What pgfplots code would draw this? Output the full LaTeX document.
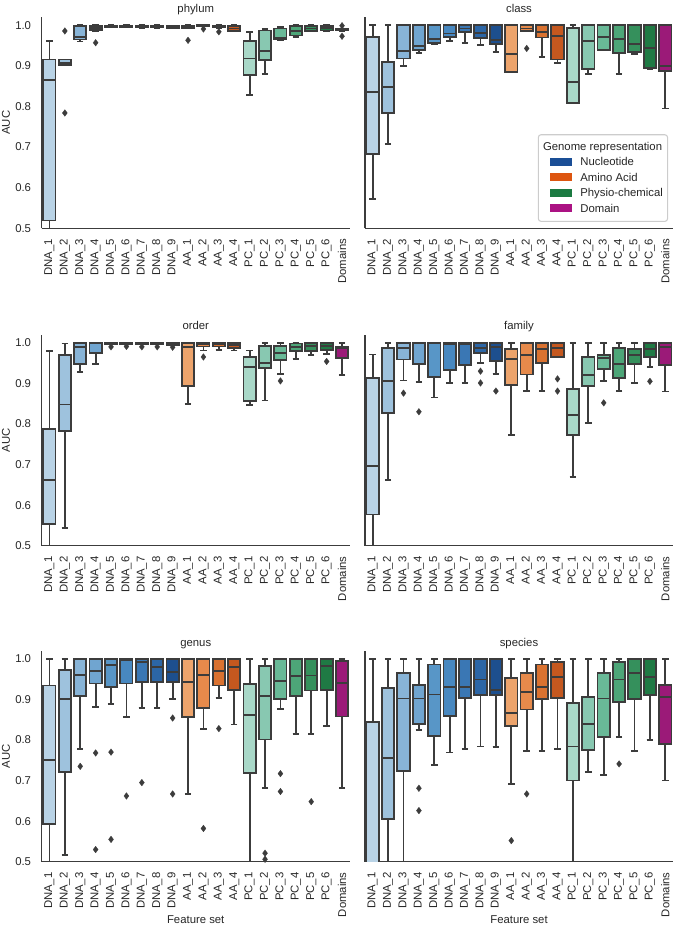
\documentclass[border=0pt]{standalone}
\usepackage{pgfplots}
\pgfplotsset{compat=1.18}
\usepgfplotslibrary{statistics}
\usepackage{fontspec}
\setmainfont{Liberation Sans}
\definecolor{edge}{HTML}{3C3C3C}
\definecolor{d1}{HTML}{B9D3E6}
\definecolor{d2}{HTML}{9EC2DD}
\definecolor{d3}{HTML}{88B4D7}
\definecolor{d4}{HTML}{70A5D0}
\definecolor{d5}{HTML}{5896C7}
\definecolor{d6}{HTML}{4888C0}
\definecolor{d7}{HTML}{3A77B4}
\definecolor{d8}{HTML}{2C66A6}
\definecolor{d9}{HTML}{1D4F8E}
\definecolor{a1}{HTML}{EDA46C}
\definecolor{a2}{HTML}{E68A4B}
\definecolor{a3}{HTML}{DA7230}
\definecolor{a4}{HTML}{C5581F}
\definecolor{p1}{HTML}{A9D8C8}
\definecolor{p2}{HTML}{88C8B1}
\definecolor{p3}{HTML}{69B997}
\definecolor{p4}{HTML}{4DA678}
\definecolor{p5}{HTML}{35905C}
\definecolor{p6}{HTML}{1F7A44}
\definecolor{dom}{HTML}{9B1A78}
\definecolor{lnuc}{HTML}{1A4E96}
\definecolor{laa}{HTML}{DD5510}
\definecolor{lpc}{HTML}{1B7A41}
\definecolor{ldom}{HTML}{AB1283}
\newcommand{\fs}{\fontsize{8.5}{10}\selectfont}
% pos, colour, lower whisker, q1, median, q3, upper whisker, outliers
\newcommand{\bx}[8]{\addplot[boxplot prepared={draw direction=y, draw position=#1, lower whisker=#3, lower quartile=#4, median=#5, upper quartile=#6, upper whisker=#7, box extend=0.8, whisker extend=0.42}, draw=edge, fill=#2, line width=1.35pt, mark=diamond*, mark size=2.5pt, mark options={solid, fill=edge, draw=edge, line width=0.2pt}] coordinates {#8};}
\pgfplotsset{
 boxplot/every whisker/.style={draw=edge, line width=1.35pt},
 boxplot/every median/.style={draw=edge, line width=1.35pt},
 boxplot/every box/.style={draw=edge, line width=1.35pt},
 every axis title/.style={at={(0.5,1)}, anchor=base, yshift=3.5pt, font=\fs, text=black!85},
 panel/.style={
  scale only axis, width=231pt, height=158.3pt, anchor=south west,
  xmin=-0.5, xmax=19.5, ymin=0.5, ymax=1.02,
  axis lines*=left, axis line style={-, draw=edge, line width=1pt},
  xtick={0,...,19},
  xticklabels={DNA\_1,DNA\_2,DNA\_3,DNA\_4,DNA\_5,DNA\_6,DNA\_7,DNA\_8,DNA\_9,AA\_1,AA\_2,AA\_3,AA\_4,PC\_1,PC\_2,PC\_3,PC\_4,PC\_5,PC\_6,Domains},
  ytick={0.5,0.6,0.7,0.8,0.9,1.0},
  major tick length=0pt,
  x tick label style={rotate=90, anchor=east},
  xticklabel shift=4.5pt, yticklabel shift=4.5pt,
  tick label style={font=\fs, text=black!85},
  /pgf/number format/assume math mode=true,
  yticklabel={\pgfmathprintnumber[fixed, fixed zerofill, precision=1]{\tick}},
  label style={font=\fs, text=black!85},
  ylabel style={at={(axis description cs:-0.116,0.5)}, anchor=center},
  xlabel style={at={(axis description cs:0.5,-0.276)}, anchor=center},
  clip=true,
 },
 rightpanel/.style={panel, ymajorticks=false},
}
\begin{document}
\begin{tikzpicture}
\path[use as bounding box] (0pt,0pt) rectangle (505.5pt,697.5pt);
% ---------------- phylum
\begin{axis}[panel, at={(31.3pt,526.3pt)}, title=phylum, ylabel=AUC]
\bx{0}{d1}{0.49}{0.519}{0.865}{0.916}{0.961}{}
\bx{1}{d2}{0.903}{0.903}{0.908}{0.916}{0.916}{(1,0.986)(1,0.784)}
\bx{2}{d3}{0.960}{0.965}{0.972}{0.999}{1.0}{}
\bx{3}{d4}{0.986}{0.988}{0.994}{0.999}{1.0}{(3,0.957)}
\bx{4}{d5}{0.995}{0.996}{0.998}{0.999}{1.0}{}
\bx{5}{d6}{0.995}{0.996}{0.998}{0.999}{1.0}{}
\bx{6}{d7}{0.994}{0.995}{0.997}{0.999}{1.0}{}
\bx{7}{d8}{0.994}{0.995}{0.997}{0.999}{1.0}{}
\bx{8}{d9}{0.993}{0.994}{0.996}{0.998}{0.999}{}
\bx{9}{a1}{0.993}{0.994}{0.997}{0.999}{1.0}{(9,0.963)}
\bx{10}{a2}{0.997}{0.998}{0.999}{1.0}{1.0}{(10,0.991)}
\bx{11}{a3}{0.994}{0.995}{0.997}{0.999}{1.0}{(11,0.984)}
\bx{12}{a4}{0.985}{0.986}{0.992}{0.999}{1.0}{}
\bx{13}{p1}{0.828}{0.877}{0.918}{0.961}{0.983}{}
\bx{14}{p2}{0.881}{0.914}{0.936}{0.987}{0.991}{}
\bx{15}{p3}{0.964}{0.966}{0.970}{0.992}{0.995}{}
\bx{16}{p4}{0.971}{0.975}{0.986}{0.998}{1.0}{}
\bx{17}{p5}{0.985}{0.986}{0.992}{0.998}{1.0}{}
\bx{18}{p6}{0.986}{0.987}{0.993}{0.998}{1.0}{}
\bx{19}{dom}{0.986}{0.987}{0.989}{0.990}{0.992}{(19,0.999)(19,0.973)}
\end{axis}
% ---------------- class
\begin{axis}[rightpanel, at={(273.75pt,526.3pt)}, title=class]
\bx{0}{d1}{0.572}{0.683}{0.836}{0.971}{1.0}{}
\bx{1}{d2}{0.707}{0.783}{0.848}{0.910}{1.0}{}
\bx{2}{d3}{0.899}{0.918}{0.937}{1.0}{1.0}{}
\bx{3}{d4}{0.932}{0.940}{0.949}{1.0}{1.0}{}
\bx{4}{d5}{0.953}{0.957}{0.966}{1.0}{1.0}{}
\bx{5}{d6}{0.961}{0.971}{0.980}{1.0}{1.0}{}
\bx{6}{d7}{0.957}{0.984}{0.992}{1.0}{1.0}{}
\bx{7}{d8}{0.951}{0.969}{0.981}{1.0}{1.0}{}
\bx{8}{d9}{0.934}{0.953}{0.963}{1.0}{1.0}{}
\bx{9}{a1}{0.884}{0.884}{0.930}{1.0}{1.0}{}
\bx{10}{a2}{0.986}{0.986}{0.992}{1.0}{1.0}{(10,0.943)}
\bx{11}{a3}{0.922}{0.970}{0.984}{1.0}{1.0}{}
\bx{12}{a4}{0.908}{0.916}{0.973}{1.0}{1.0}{}
\bx{13}{p1}{0.809}{0.809}{0.861}{0.994}{1.0}{}
\bx{14}{p2}{0.881}{0.893}{0.961}{1.0}{1.0}{}
\bx{15}{p3}{0.939}{0.939}{0.971}{1.0}{1.0}{}
\bx{16}{p4}{0.881}{0.932}{0.967}{1.0}{1.0}{}
\bx{17}{p5}{0.930}{0.934}{0.953}{1.0}{1.0}{}
\bx{18}{p6}{0.893}{0.895}{0.945}{1.0}{1.0}{}
\bx{19}{dom}{0.795}{0.887}{0.900}{1.0}{1.0}{}
\node[draw=black!20, line width=0.8pt, rounded corners=2pt, fill=white, anchor=south east, inner sep=3.5pt, font=\fontsize{8.5}{11.6}\selectfont, text=black!85] at (rel axis cs:0.984,0.03) {%
\begin{tabular}{@{}l@{\hspace{6pt}}l@{}}
\multicolumn{2}{@{}l@{}}{Genome representation}\\
\hspace*{5pt}\textcolor{lnuc}{\rule{17pt}{6pt}} & Nucleotide\\
\hspace*{5pt}\textcolor{laa}{\rule{17pt}{6pt}} & Amino Acid\\
\hspace*{5pt}\textcolor{lpc}{\rule{17pt}{6pt}} & Physio-chemical\\
\hspace*{5pt}\textcolor{ldom}{\rule{17pt}{6pt}} & Domain
\end{tabular}};
\end{axis}
% ---------------- order
\begin{axis}[panel, at={(31.3pt,288.2pt)}, title=order, ylabel=AUC]
\bx{0}{d1}{0.49}{0.553}{0.661}{0.787}{0.98}{}
\bx{1}{d2}{0.544}{0.783}{0.848}{0.969}{0.998}{}
\bx{2}{d3}{0.928}{0.947}{0.989}{1.0}{1.0}{}
\bx{3}{d4}{0.948}{0.975}{0.998}{1.0}{1.0}{}
\bx{4}{d5}{0.996}{0.996}{0.999}{1.0}{1.0}{(4,0.990)}
\bx{5}{d6}{0.996}{0.996}{0.999}{1.0}{1.0}{(5,0.991)}
\bx{6}{d7}{0.996}{0.996}{0.999}{1.0}{1.0}{(6,0.990)}
\bx{7}{d8}{0.996}{0.996}{0.999}{1.0}{1.0}{(7,0.990)}
\bx{8}{d9}{0.995}{0.995}{0.998}{0.999}{1.0}{(8,0.989)}
\bx{9}{a1}{0.850}{0.893}{0.989}{1.0}{1.0}{}
\bx{10}{a2}{0.981}{0.991}{0.996}{1.0}{1.0}{(10,0.965)}
\bx{11}{a3}{0.983}{0.991}{0.996}{1.0}{1.0}{}
\bx{12}{a4}{0.981}{0.988}{0.995}{0.999}{0.999}{}
\bx{13}{p1}{0.846}{0.857}{0.940}{0.965}{0.981}{}
\bx{14}{p2}{0.858}{0.938}{0.950}{0.993}{1.0}{}
\bx{15}{p3}{0.924}{0.957}{0.975}{0.993}{1.0}{(15,0.906)}
\bx{16}{p4}{0.961}{0.980}{0.989}{0.998}{1.0}{}
\bx{17}{p5}{0.969}{0.980}{0.993}{1.0}{1.0}{}
\bx{18}{p6}{0.973}{0.983}{0.993}{1.0}{1.0}{(18,0.954)}
\bx{19}{dom}{0.920}{0.962}{0.988}{0.989}{1.0}{}
\end{axis}
% ---------------- family
\begin{axis}[rightpanel, at={(273.75pt,288.2pt)}, title=family]
\bx{0}{d1}{0.49}{0.577}{0.697}{0.914}{0.971}{}
\bx{1}{d2}{0.661}{0.827}{0.906}{0.988}{1.0}{}
\bx{2}{d3}{0.907}{0.959}{0.988}{1.0}{1.0}{(2,0.876)}
\bx{3}{d4}{0.903}{0.948}{0.998}{1.0}{1.0}{(3,0.830)}
\bx{4}{d5}{0.865}{0.916}{0.999}{1.0}{1.0}{}
\bx{5}{d6}{0.901}{0.932}{0.997}{1.0}{1.0}{}
\bx{6}{d7}{0.901}{0.946}{0.996}{1.0}{1.0}{}
\bx{7}{d8}{0.951}{0.975}{0.988}{1.0}{1.0}{(7,0.930)(7,0.901)}
\bx{8}{d9}{0.924}{0.955}{0.989}{1.0}{1.0}{(8,0.881)}
\bx{9}{a1}{0.772}{0.895}{0.961}{0.985}{1.0}{}
\bx{10}{a2}{0.881}{0.922}{0.969}{1.0}{1.0}{}
\bx{11}{a3}{0.881}{0.951}{0.984}{1.0}{1.0}{}
\bx{12}{a4}{0.965}{0.965}{0.987}{1.0}{1.0}{(12,0.911)(12,0.881)}
\bx{13}{p1}{0.670}{0.773}{0.823}{0.887}{1.0}{}
\bx{14}{p2}{0.802}{0.893}{0.921}{0.965}{1.0}{}
\bx{15}{p3}{0.905}{0.936}{0.963}{0.970}{1.0}{(15,0.852)}
\bx{16}{p4}{0.881}{0.914}{0.948}{0.987}{1.0}{}
\bx{17}{p5}{0.901}{0.948}{0.969}{0.984}{1.0}{}
\bx{18}{p6}{0.940}{0.965}{0.985}{1.0}{1.0}{(18,0.905)}
\bx{19}{dom}{0.880}{0.945}{0.990}{1.0}{1.0}{}
\end{axis}
% ---------------- genus
\begin{axis}[panel, at={(31.3pt,51.2pt)}, title=genus, ylabel=AUC, xlabel=Feature set]
\bx{0}{d1}{0.49}{0.592}{0.751}{0.934}{1.0}{}
\bx{1}{d2}{0.516}{0.722}{0.900}{0.972}{1.0}{}
\bx{2}{d3}{0.778}{0.909}{0.960}{1.0}{1.0}{(2,0.735)}
\bx{3}{d4}{0.881}{0.939}{0.970}{1.0}{1.0}{(3,0.768)(3,0.530)}
\bx{4}{d5}{0.889}{0.930}{0.984}{1.0}{1.0}{(4,0.770)(4,0.555)}
\bx{5}{d6}{0.856}{0.939}{0.997}{1.0}{1.0}{(5,0.662)}
\bx{6}{d7}{0.879}{0.943}{0.992}{1.0}{1.0}{(6,0.695)}
\bx{7}{d8}{0.879}{0.943}{0.980}{1.0}{1.0}{}
\bx{8}{d9}{0.900}{0.943}{0.968}{1.0}{1.0}{(8,0.854)(8,0.667)}
\bx{9}{a1}{0.667}{0.857}{0.943}{1.0}{1.0}{}
\bx{10}{a2}{0.827}{0.879}{0.961}{1.0}{1.0}{(10,0.582)}
\bx{11}{a3}{0.904}{0.934}{0.970}{1.0}{1.0}{(11,0.828)}
\bx{12}{a4}{0.838}{0.924}{0.980}{1.0}{1.0}{}
\bx{13}{p1}{0.49}{0.718}{0.862}{0.937}{1.0}{}
\bx{14}{p2}{0.681}{0.801}{0.908}{0.982}{1.0}{(14,0.521)(14,0.506)}
\bx{15}{p3}{0.877}{0.901}{0.946}{1.0}{1.0}{(15,0.717)(15,0.673)}
\bx{16}{p4}{0.815}{0.908}{0.957}{1.0}{1.0}{}
\bx{17}{p5}{0.815}{0.922}{0.959}{1.0}{1.0}{(17,0.648)}
\bx{18}{p6}{0.834}{0.924}{0.982}{1.0}{1.0}{}
\bx{19}{dom}{0.681}{0.858}{0.941}{0.994}{1.0}{}
\end{axis}
% ---------------- species
\begin{axis}[rightpanel, at={(273.75pt,51.2pt)}, title=species, xlabel=Feature set]
\bx{0}{d1}{0.20}{0.35}{0.47}{0.844}{1.0}{}
\bx{1}{d2}{0.49}{0.606}{0.755}{0.928}{1.0}{}
\bx{2}{d3}{0.49}{0.724}{0.902}{0.965}{1.0}{}
\bx{3}{d4}{0.825}{0.839}{0.902}{0.935}{1.0}{(3,0.681)(3,0.626)}
\bx{4}{d5}{0.739}{0.809}{0.912}{0.986}{1.0}{}
\bx{5}{d6}{0.769}{0.860}{0.930}{1.0}{1.0}{}
\bx{6}{d7}{0.778}{0.904}{0.930}{1.0}{1.0}{}
\bx{7}{d8}{0.784}{0.910}{0.949}{1.0}{1.0}{}
\bx{8}{d9}{0.783}{0.910}{0.924}{1.0}{1.0}{}
\bx{9}{a1}{0.692}{0.834}{0.867}{0.953}{1.0}{(9,0.552)}
\bx{10}{a2}{0.772}{0.875}{0.918}{0.965}{1.0}{(10,0.667)}
\bx{11}{a3}{0.773}{0.901}{0.930}{0.986}{1.0}{}
\bx{12}{a4}{0.778}{0.903}{0.956}{0.992}{1.0}{}
\bx{13}{p1}{0.49}{0.700}{0.784}{0.891}{1.0}{}
\bx{14}{p2}{0.721}{0.776}{0.839}{0.906}{1.0}{}
\bx{15}{p3}{0.714}{0.807}{0.902}{0.965}{1.0}{}
\bx{16}{p4}{0.807}{0.894}{0.949}{0.992}{1.0}{(16,0.741)}
\bx{17}{p5}{0.772}{0.900}{0.964}{1.0}{1.0}{}
\bx{18}{p6}{0.800}{0.910}{0.955}{1.0}{1.0}{}
\bx{19}{dom}{0.700}{0.790}{0.905}{0.935}{1.0}{}
\end{axis}
\end{tikzpicture}
\end{document}
